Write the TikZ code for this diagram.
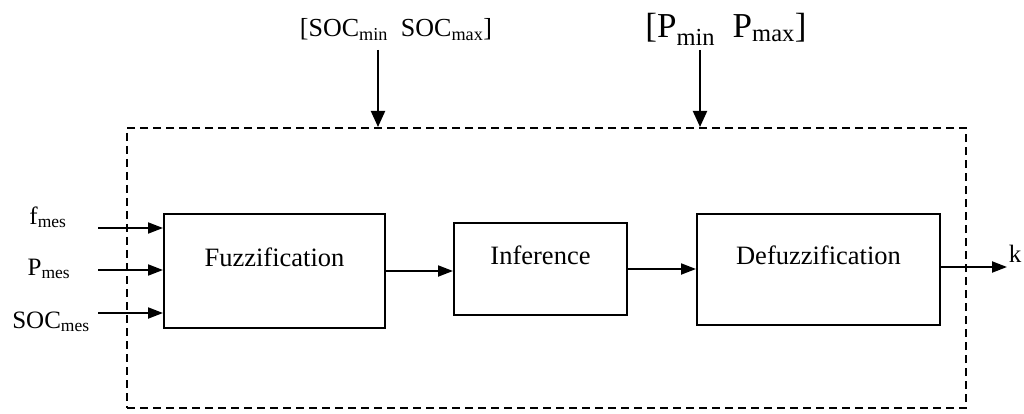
\documentclass[tikz,border=0pt]{standalone}
\usepackage{fontspec}
\setmainfont{Liberation Serif}
\usetikzlibrary{arrows.meta,positioning,calc}

\begin{document}
\begin{tikzpicture}[x=1pt,y=-1pt,
    block/.style={draw,line width=2pt,inner sep=0pt,
      font=\fontsize{26.5}{30}\selectfont,text height=20pt,text depth=30pt},
    frame/.style={draw,line width=2pt,dash pattern=on 8pt off 5pt,inner sep=0pt},
    lbl/.style={anchor=base,inner sep=0pt,font=\fontsize{25}{28}\selectfont},
    toplbl/.style={anchor=base,inner sep=0pt},
    arr/.style={line width=2pt,-{Triangle[length=15pt,width=11pt]}},
    varr/.style={line width=2pt,-{Triangle[length=16pt,width=14pt]}}]
  \useasboundingbox (0,0) rectangle (1024,414);
  % Controller frame
  \node[frame,minimum width=839pt,minimum height=280pt] (flc) at (546.5,268) {};
  % Blocks
  \node[block,minimum width=221pt,minimum height=114pt] (fuzz) at (274.5,271) {Fuzzification};
  \node[block,minimum width=173pt,minimum height=92pt] (inf) at (540.5,269) {Inference};
  \node[block,minimum width=243pt,minimum height=111pt] (defuzz) at (818.5,269.5) {Defuzzification};
  % Inputs
  \coordinate (inF) at (98,228);
  \coordinate (inP) at (98,270);
  \coordinate (inS) at (98,313);
  \node[lbl] (fmes) at (48,224) {f\textsubscript{mes}};
  \node[lbl] (pmes) at (49,275) {P\textsubscript{mes}};
  \node[lbl] (socmes) at (51,328) {SOC\textsubscript{mes}};
  % Limits
  \node[toplbl,font=\fontsize{26}{30}\selectfont] (soclim) at (396,37)
    {[SOC\textsubscript{min}\ \ SOC\textsubscript{max}]};
  \node[toplbl,font=\fontsize{35}{40}\selectfont] (plim) at (726,38)
    {[P\textsubscript{min}\ \ P\textsubscript{max}]};
  \coordinate (socin) at (378,50);
  \coordinate (pin) at (700,50);
  % Output
  \coordinate (out) at (1007,267);
  \node[lbl] (k) at (1015,262) {k};
  % Arrows
  \foreach \c in {inF,inP,inS}
    \draw[arr] (\c) -- (\c -| fuzz.west);
  \draw[arr] (fuzz.east) -- (fuzz.east -| inf.west);
  \draw[arr] (inf.east) -- (inf.east -| defuzz.west);
  \draw[arr] (defuzz.east |- out) -- (out);
  \draw[varr] (socin) -- (socin |- flc.north);
  \draw[varr] (pin) -- (pin |- flc.north);
\end{tikzpicture}
\end{document}
